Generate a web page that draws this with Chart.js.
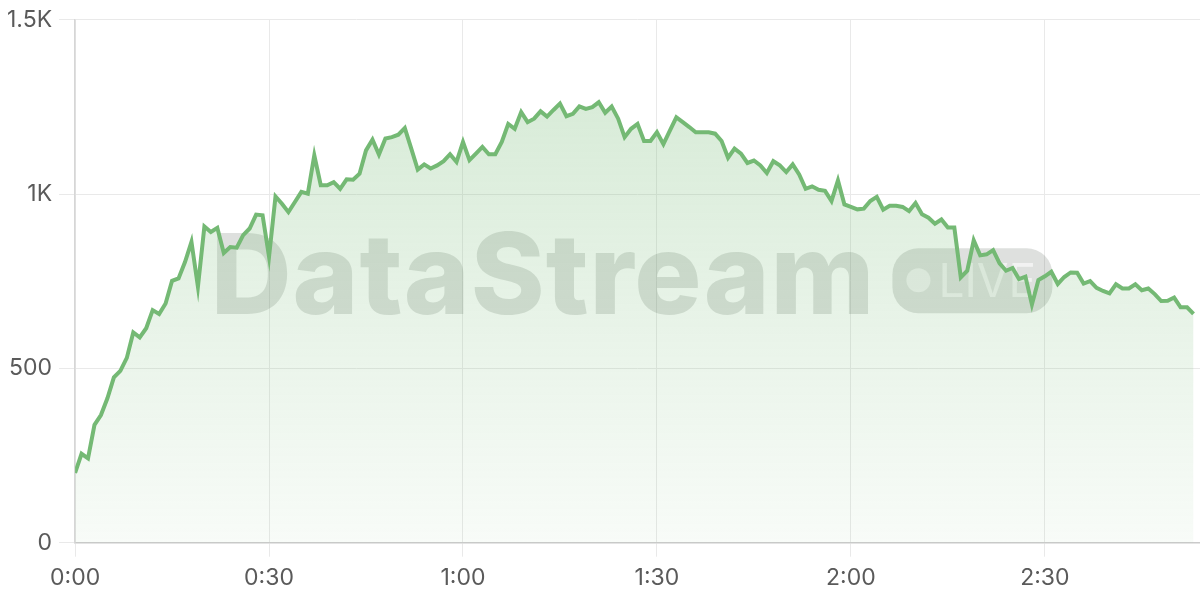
<!DOCTYPE html>
<html>
<head>
<meta charset="utf-8">
<script src="https://cdn.jsdelivr.net/npm/chart.js@4"></script>
<style>
  html, body { margin: 0; padding: 0; background: #fff; }
  #wrap { width: 1200px; height: 600px; position: relative; }
</style>
</head>
<body>
<div id="wrap"><canvas id="viewersChart"></canvas></div>
<script>
// concurrent viewers, one sample per minute from 0:00
const viewers = [
  200, 255, 242, 338, 366, 414, 474, 493, 530, 603,
  589, 615, 667, 656, 686, 751, 758, 805, 863, 734,
  907, 891, 903, 831, 848, 846, 882, 901, 941, 939,
  820, 993, 972, 948, 977, 1006, 1001, 1111, 1025, 1025,
  1034, 1015, 1042, 1041, 1058, 1125, 1156, 1113, 1159, 1163,
  1170, 1189, 1130, 1070, 1085, 1073, 1082, 1094, 1114, 1092,
  1149, 1097, 1116, 1135, 1114, 1114, 1149, 1201, 1187, 1235,
  1206, 1216, 1237, 1222, 1241, 1259, 1223, 1230, 1251, 1244,
  1249, 1263, 1233, 1251, 1216, 1163, 1187, 1201, 1152, 1152,
  1177, 1143, 1182, 1220, 1206, 1192, 1177, 1177, 1177, 1173,
  1152, 1104, 1130, 1116, 1089, 1096, 1082, 1060, 1094, 1082,
  1063, 1085, 1056, 1015, 1022, 1012, 1009, 980, 1039, 970,
  963, 956, 958, 980, 992, 955, 966, 966, 963, 951,
  974, 942, 932, 915, 927, 904, 904, 761, 780, 867,
  824, 827, 839, 801, 780, 788, 756, 763, 683, 753,
  764, 777, 742, 762, 775, 774, 743, 750, 731, 722,
  715, 741, 729, 729, 741, 724, 729, 713, 693, 694,
  703, 675, 675, 656
];
const sampleStepMinutes = 1;
const xMaxMinutes = 174;

const xTicks = [0, 30, 60, 90, 120, 150];
const xTickLabels = ["0:00", "0:30", "1:00", "1:30", "2:00", "2:30"];
const yTicks = [0, 500, 1000, 1500];
const yTickLabels = ["0", "500", "1K", "1.5K"];

const lineColor = "#74b974";
const gridColor = "#e9e9e9";
const tickFont = { family: "Inter", size: 23, lineHeight: 1.1 };

const watermark = {
  id: "watermark",
  beforeDatasetsDraw(chart) {
    const { ctx, chartArea } = chart;
    const cx = (chartArea.left + chartArea.right) / 2 - 6;
    const cy = (chartArea.top + chartArea.bottom) / 2;
    ctx.save();
    ctx.font = "800 112px Inter";
    ctx.letterSpacing = "1px";
    const tw = ctx.measureText("DataStream").width;
    const pillW = 160, pillH = 65, gap = 17;
    const left = cx - (tw + gap + pillW) / 2;
    ctx.fillStyle = "rgba(60, 70, 60, 0.17)";
    ctx.textBaseline = "alphabetic";
    ctx.fillText("DataStream", left, cy + 33);

    const px = left + tw + gap, py = cy - 33;
    ctx.beginPath();
    ctx.roundRect(px, py, pillW, pillH, 26);
    ctx.fill();

    ctx.fillStyle = "rgba(255, 255, 255, 0.6)";
    ctx.beginPath();
    ctx.arc(px + 26, cy - 1, 12, 0, Math.PI * 2);
    ctx.fill();
    ctx.letterSpacing = "0px";
    ctx.font = "400 46px Inter";
    ctx.fillText("LIVE", px + 46, cy + 16);
    ctx.restore();
  },
};

const ctx = document.getElementById("viewersChart").getContext("2d");
const grad = ctx.createLinearGradient(0, 19, 0, 543);
grad.addColorStop(0, "rgba(116, 185, 116, 0.32)");
grad.addColorStop(1, "rgba(116, 185, 116, 0.05)");

// eslint-disable-next-line no-new
new Chart(ctx, {
  type: "line",
  data: {
    datasets: [
      {
        label: "Viewers",
        data: viewers.map((v, i) => ({ x: i * sampleStepMinutes, y: v })),
        borderColor: lineColor,
        borderWidth: 4,
        backgroundColor: grad,
        fill: "origin",
        tension: 0,
        pointRadius: 0,
      },
    ],
  },
  options: {
    responsive: true,
    maintainAspectRatio: false,
    animation: false,
    layout: { padding: { left: 0, top: 6, right: 0, bottom: 0 } },
    plugins: {
      legend: { display: false },
      tooltip: { enabled: false },
    },
    scales: {
      x: {
        type: "linear",
        min: 0,
        max: xMaxMinutes,
        afterBuildTicks: (axis) => { axis.ticks = xTicks.map((value) => ({ value })); },
        ticks: {
          includeBounds: false,
          autoSkip: false,
          maxRotation: 0,
          color: "#5a5a5a",
          font: tickFont,
          padding: 9,
          callback: (v) => xTickLabels[xTicks.indexOf(v)],
        },
        grid: { color: gridColor, tickLength: 14, tickColor: gridColor },
        border: { color: "#cacaca", width: 1.5 },
      },
      y: {
        min: 0,
        max: 1500,
        afterBuildTicks: (axis) => { axis.ticks = yTicks.map((value) => ({ value })); },
        ticks: {
          color: "#5a5a5a",
          font: tickFont,
          padding: 7,
          callback: (v) => yTickLabels[yTicks.indexOf(v)],
        },
        grid: { color: gridColor, tickLength: 16, tickColor: gridColor },
        border: { color: "#d6d6d6", width: 1.5 },
      },
    },
  },
  plugins: [watermark],
});
</script>
</body>
</html>
